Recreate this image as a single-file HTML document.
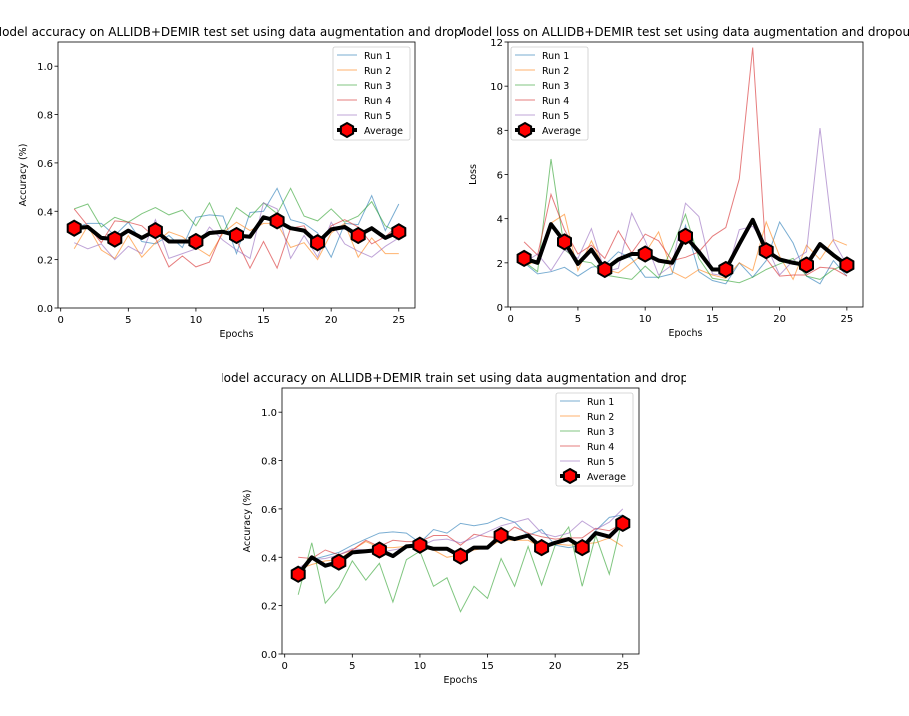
<!DOCTYPE html>
<html><head><meta charset="utf-8">
<style>
body{margin:0;background:#fff;}
svg{display:block;font-family:"DejaVu Sans","Liberation Sans",sans-serif;}
</style></head>
<body>
<svg id="fig" width="909" height="716" viewBox="0 0 909 716" xmlns="http://www.w3.org/2000/svg"></svg>
<script>
const epochs = [1,2,3,4,5,6,7,8,9,10,11,12,13,14,15,16,17,18,19,20,21,22,23,24,25];
const runNames = ["Run 1","Run 2","Run 3","Run 4","Run 5"];
const runColors = ["#1f77b4","#ff7f0e","#2ca02c","#d62728","#9467bd"];

const c1Run1 = [0.33,0.35,0.35,0.30,0.355,0.275,0.265,0.30,0.25,0.375,0.385,0.38,0.225,0.395,0.40,0.495,0.365,0.35,0.31,0.21,0.35,0.345,0.465,0.32,0.43];
const c1Run2 = [0.245,0.34,0.24,0.205,0.30,0.21,0.27,0.315,0.295,0.25,0.215,0.31,0.355,0.32,0.35,0.35,0.25,0.27,0.20,0.31,0.35,0.21,0.29,0.225,0.225];
const c1Run3 = [0.41,0.43,0.335,0.375,0.355,0.39,0.415,0.385,0.405,0.34,0.435,0.31,0.415,0.375,0.435,0.39,0.495,0.38,0.36,0.41,0.355,0.38,0.44,0.34,0.31];
const c1Run4 = [0.41,0.34,0.27,0.36,0.355,0.34,0.29,0.17,0.215,0.17,0.19,0.32,0.28,0.165,0.275,0.165,0.33,0.34,0.235,0.34,0.365,0.335,0.265,0.295,0.345];
const c1Run5 = [0.27,0.245,0.265,0.20,0.255,0.225,0.365,0.205,0.225,0.245,0.335,0.28,0.24,0.205,0.435,0.41,0.205,0.30,0.21,0.355,0.265,0.235,0.21,0.255,0.29];
const c1Avg = [0.33,0.335,0.29,0.285,0.32,0.29,0.32,0.275,0.275,0.275,0.31,0.315,0.30,0.295,0.375,0.36,0.33,0.32,0.27,0.325,0.335,0.30,0.33,0.29,0.315];

const c2Run1 = [2.0,1.5,1.6,1.8,1.4,1.8,1.9,2.5,2.2,1.35,1.35,1.5,3.7,1.6,1.2,1.05,2.0,1.35,2.1,3.85,2.9,1.4,1.05,2.1,1.4];
const c2Run2 = [1.85,2.1,3.8,4.2,1.65,3.0,1.7,1.55,2.0,2.45,3.4,1.6,1.3,1.7,1.45,1.3,2.0,1.65,3.85,2.3,1.25,2.8,2.15,3.05,2.8];
const c2Run3 = [2.05,1.6,6.7,2.6,2.1,2.0,1.45,1.35,1.25,1.85,1.3,2.7,4.2,2.2,1.3,1.2,1.1,1.35,1.7,1.95,2.2,1.4,1.25,1.7,1.95];
const c2Run4 = [2.95,2.35,5.1,3.5,2.4,2.8,2.2,3.45,2.45,3.3,3.0,2.1,2.25,2.5,3.2,3.6,5.8,11.75,2.2,1.4,1.45,1.45,1.8,1.75,1.4];
const c2Run5 = [2.0,2.4,1.65,2.6,2.2,3.55,1.6,1.75,4.25,3.0,1.45,1.9,4.7,4.1,1.5,1.4,3.5,3.65,2.8,1.45,2.1,2.5,8.1,3.0,1.9];
const c2Avg = [2.2,2.0,3.75,2.95,1.95,2.6,1.7,2.15,2.4,2.4,2.1,2.0,3.2,2.5,1.7,1.7,2.85,3.95,2.55,2.15,2.0,1.9,2.85,2.35,1.9];

const c3Run1 = [0.33,0.39,0.405,0.42,0.45,0.475,0.50,0.505,0.50,0.46,0.515,0.50,0.54,0.53,0.54,0.565,0.545,0.49,0.515,0.45,0.44,0.45,0.51,0.565,0.575];
const c3Run2 = [0.35,0.37,0.385,0.39,0.43,0.465,0.44,0.44,0.445,0.44,0.43,0.40,0.41,0.43,0.44,0.47,0.47,0.47,0.44,0.455,0.45,0.455,0.46,0.48,0.445];
const c3Run3 = [0.245,0.46,0.21,0.275,0.385,0.305,0.375,0.215,0.39,0.425,0.28,0.315,0.175,0.28,0.23,0.395,0.28,0.445,0.285,0.45,0.525,0.28,0.49,0.33,0.565];
const c3Run4 = [0.40,0.395,0.43,0.41,0.43,0.47,0.445,0.47,0.465,0.465,0.49,0.49,0.45,0.495,0.485,0.48,0.525,0.50,0.485,0.475,0.48,0.48,0.52,0.51,0.54];
const c3Run5 = [0.355,0.39,0.395,0.41,0.435,0.43,0.42,0.43,0.44,0.445,0.47,0.475,0.46,0.48,0.505,0.53,0.545,0.56,0.50,0.485,0.50,0.55,0.515,0.545,0.60];
const c3Avg = [0.33,0.40,0.365,0.38,0.42,0.425,0.43,0.405,0.445,0.45,0.435,0.435,0.405,0.44,0.44,0.49,0.475,0.49,0.44,0.46,0.475,0.44,0.50,0.485,0.54];

const xTicks = [0,5,10,15,20,25];
const accTicks = [0.0,0.2,0.4,0.6,0.8,1.0];
const lossTicks = [0,2,4,6,8,10,12];

const NS = "http://www.w3.org/2000/svg";
const fig = document.getElementById('fig');
function mk(tag, attrs, parent){
  const e = document.createElementNS(NS, tag);
  for (const k in attrs) e.setAttribute(k, attrs[k]);
  (parent||fig).appendChild(e);
  return e;
}
function hex(cx, cy, r){
  let p=[];
  for(let i=0;i<6;i++){const a=Math.PI/180*(60*i-90);p.push((cx+r*Math.cos(a)).toFixed(1)+","+(cy+r*Math.sin(a)).toFixed(1));}
  return p.join(" ");
}

function chart(cfg){
  const g = mk('g', {});
  
  
  const {L,R,T,B,ymin,ymax} = cfg;
  const xmin=-0.2, xmax=26.2;
  const sx = v => L + (v-xmin)/(xmax-xmin)*(R-L);
  const sy = v => B - (v-ymin)/(ymax-ymin)*(B-T);
  const cp = 'clip-'+cfg.name;
  const defs = mk('defs',{},g);
  const c = mk('clipPath',{id:cp},defs);
  mk('rect',{x:L,y:T,width:R-L,height:B-T},c);
  const tc = mk('clipPath',{id:cp+'-t'},defs);
  mk('rect',{x:cfg.tclip[0],y:cfg.titleY-20,width:cfg.tclip[1]-cfg.tclip[0],height:30},tc);
  const t = mk('text',{x:(L+R)/2,y:cfg.titleY,'text-anchor':'middle','font-size':12,fill:'#000','clip-path':`url(#${cp}-t)`},g);
  t.textContent = cfg.title;
  
  
  xTicks.forEach(v=>{
    const x=sx(v);
    mk('line',{x1:x,x2:x,y1:B,y2:B+3.5,stroke:'#000','stroke-width':0.8},g);
    const tx=mk('text',{x:x,y:B+15,'text-anchor':'middle','font-size':10},g);
    tx.textContent=v;
    
    
  });
  cfg.yTicks.forEach(v=>{
    const y=sy(v);
    mk('line',{x1:L,x2:L-3.5,y1:y,y2:y,stroke:'#000','stroke-width':0.8},g);
    const ty=mk('text',{x:L-5,y:y+4,'text-anchor':'end','font-size':10},g);
    ty.textContent=cfg.fmt(v);
    
    
  });
  const xl=mk('text',{x:(L+R)/2,y:B+29,'text-anchor':'middle','font-size':9.5},g);
  xl.textContent='Epochs';
  
  
  const yx=L-32, yy=(T+B)/2;
  const yl=mk('text',{x:yx,y:yy,'text-anchor':'middle','font-size':9.5,transform:`rotate(-90 ${yx} ${yy})`},g);
  yl.textContent=cfg.ylabel;
  
  
  const pg = mk('g',{'clip-path':`url(#${cp})`},g);
  cfg.runs.forEach((arr,i)=>{
    const pts = epochs.map((e,j)=>sx(e).toFixed(1)+","+sy(arr[j]).toFixed(1)).join(" ");
    const pl = mk('polyline',{points:pts,fill:'none',stroke:runColors[i],'stroke-width':1,'stroke-opacity':0.6},pg);
    
    
  });
  const apts = epochs.map((e,j)=>sx(e).toFixed(1)+","+sy(cfg.avg[j]).toFixed(1)).join(" ");
  const al = mk('polyline',{points:apts,fill:'none',stroke:'#000','stroke-width':4,'stroke-linejoin':'round'},pg);
  
  
  epochs.forEach((e,j)=>{
    if(j%3!==0) return;
    const m = mk('polygon',{points:hex(sx(e),sy(cfg.avg[j]),7.5),fill:'#ff0000',stroke:'#000','stroke-width':2},pg);
    
    
  });
  mk('rect',{x:L,y:T,width:R-L,height:B-T,fill:'none',stroke:'#000','stroke-width':0.8},g);
  const lg = mk('g',{},g);
  
  
  const lx=cfg.legX, ly=cfg.legY;
  mk('rect',{x:lx,y:ly,width:77,height:93,rx:2,fill:'#fff','fill-opacity':0.8,stroke:'#ccc','stroke-width':0.8},lg);
  runNames.concat(['Average']).forEach((n,i)=>{
    const y = ly+8+i*15;
    if(i<5){
      mk('line',{x1:lx+4,x2:lx+24,y1:y,y2:y,stroke:runColors[i],'stroke-width':1,'stroke-opacity':0.6},lg);
    } else {
      mk('line',{x1:lx+4,x2:lx+24,y1:y,y2:y,stroke:'#000','stroke-width':4},lg);
      mk('polygon',{points:hex(lx+14,y,7),fill:'#ff0000',stroke:'#000','stroke-width':2},lg);
    }
    const te = mk('text',{x:lx+31,y:y+4,'font-size':9.5},lg);
    te.textContent=n;
    
    
  });
}

chart({name:'test-accuracy-chart',L:58,R:415,T:42,B:308,ymin:0,ymax:1.1,yTicks:accTicks,fmt:v=>v.toFixed(1),
  title:'Model accuracy on ALLIDB+DEMIR test set using data augmentation and dropout',titleY:36,tclip:[0,463],ylabel:'Accuracy (%)',
  runs:[c1Run1,c1Run2,c1Run3,c1Run4,c1Run5],avg:c1Avg,legX:333,legY:47});
chart({name:'test-loss-chart',L:508,R:863,T:42,B:307,ymin:0,ymax:12,yTicks:lossTicks,fmt:v=>String(v),
  title:'Model loss on ALLIDB+DEMIR test set using data augmentation and dropout',titleY:36,tclip:[460,909],ylabel:'Loss',
  runs:[c2Run1,c2Run2,c2Run3,c2Run4,c2Run5],avg:c2Avg,legX:511,legY:47});
chart({name:'train-accuracy-chart',L:282,R:639,T:388,B:654,ymin:0,ymax:1.1,yTicks:accTicks,fmt:v=>v.toFixed(1),
  title:'Model accuracy on ALLIDB+DEMIR train set using data augmentation and dropout',titleY:382,tclip:[222,686],ylabel:'Accuracy (%)',
  runs:[c3Run1,c3Run2,c3Run3,c3Run4,c3Run5],avg:c3Avg,legX:556,legY:393});
</script>
</body></html>
